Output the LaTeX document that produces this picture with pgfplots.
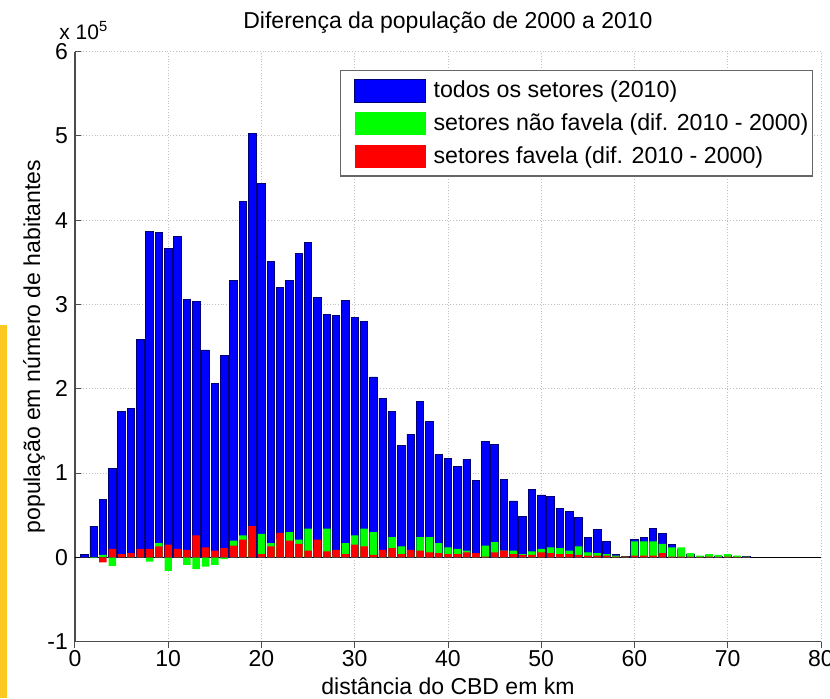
\documentclass[border=0pt]{standalone}
\usepackage{fontspec}
\setmainfont{Liberation Sans}
\usepackage{pgfplots}
\pgfplotsset{compat=1.18}
\usepackage{pgfplotstable}

\definecolor{todos}{RGB}{0,0,255}
\definecolor{naofav}{RGB}{0,255,0}
\definecolor{fav}{RGB}{255,0,0}
\definecolor{faixa}{RGB}{252,201,35}

% km, populacao 2010 (todos), dif. nao favela, dif. favela
\pgfplotstableread{
km todos  naofav  fav
1  4000    0      0
2  37000  -1000   0
3  69000   3000  -6000
4  106000 -10000  10000
5  173000  0      4000
6  177000  1000   5000
7  258000  3000   10000
8  387000 -5000   10000
9  385000  17000  13000
10 366000 -16000  15000
11 381000  2000   10000
12 306000 -9000   9000
13 304000 -14000  26000
14 246000 -11000  12000
15 206000 -9000   8000
16 239000 -2000   11000
17 328000  20000  14000
18 422000  26000  21000
19 503000  22000  37000
20 443000  28000  4000
21 351000  17000  13000
22 320000  22000  29000
23 328000  30000  20000
24 361000  21000  16000
25 373000  34000  8000
26 308000  10000  21000
27 288000  34000  7000
28 287000  3000   9000
29 305000  17000  4000
30 285000  26000  15000
31 280000  34000  13000
32 214000  30000  3000
33 189000  5000   9000
34 173000  24000  11000
35 133000  13000  4000
36 146000  6000   9000
37 185000  24000  8000
38 161000  24000  6000
39 122000  17000  5000
40 117000  12000  4000
41 108000  10000  4000
42 116000  8000   6000
43 91000   4000   5000
44 138000  14000  1000
45 134000  18000  6000
46 92000   8000   8000
47 67000   8000   4000
48 49000   4000   3000
49 81000   7000   3000
50 74000   10000  6000
51 72000   12000  5000
52 58000   11000  4000
53 55000   8000   4000
54 47000   13000  3000
55 24000   6000   2000
56 33000   5000   2000
57 19000   4000   2000
58 4000    2000   1000
59 1000    1000   1000
60 21000   19000  2000
61 24000   19000  2000
62 34000   19000  2000
63 28000   16000  5000
64 15000   12000  1000
65 10000   12000  1000
66 3000    5000   1000
67 1000    2000   500
68 2000    4000   1000
69 1000    3000   500
70 2000    4000   1000
71 1000    2000   500
72 1000    1000   500
}\dados

\begin{document}
\begin{tikzpicture}
\begin{axis}[name=ax,
  width=373pt, height=295.1pt, scale only axis,
  xmin=0, xmax=80, ymin=-100000, ymax=600000,
  xtick={0,10,...,80},
  ytick={-100000,0,100000,200000,300000,400000,500000,600000},
  scaled y ticks=base 10:-5,
  ytick scale label code/.code={x 10\textsuperscript{5}},
  every y tick scale label/.style={at={(axis description cs:0,1)}, anchor=base west,
    xshift=-8pt, yshift=6pt, inner sep=0pt, font=\fontsize{10.5}{12}\selectfont},
  /pgf/number format/assume math mode=true,
  axis lines=left,
  axis line style={-, draw=black!70, line width=0.6pt},
  tick align=inside, major tick length=3pt,
  tick style={black!70, line width=0.5pt},
  grid=major, grid style={densely dotted, black!25, line width=0.5pt},
  font=\fontsize{11}{13}\selectfont,
  tick label style={font=\fontsize{11.5}{13}\selectfont},
  xticklabel style={yshift=2pt},
  ybar, bar width=0.8,
  title={Diferença da população de 2000 a 2010},
  every axis title/.style={at={(axis description cs:0.5,1.0398)}, anchor=base,
    font=\fontsize{11.5}{14}\selectfont, inner sep=0pt},
  xlabel={distância do CBD em km},
  xlabel style={at={(axis description cs:0.5,-0.0898)}, anchor=base,
    font=\fontsize{11.5}{14}\selectfont, inner sep=0pt},
  ylabel={população em número de habitantes},
  ylabel style={at={(axis description cs:-0.0469,0.5)}, anchor=base,
    font=\fontsize{11.5}{14}\selectfont, inner sep=0pt},
  legend image code/.code={\path[draw=none, fill=none] (-7pt,0pt) -- (37.5pt,0pt);
    \fill[#1] (0pt,-5.75pt) rectangle (35.5pt,5.75pt);},
  legend style={at={(axis description cs:0.9893,0.9687)}, anchor=north east,
    draw=black!60, line width=0.6pt, fill=white,
    font=\fontsize{11.6}{14}\selectfont,
    inner xsep=0pt, inner ysep=3pt, row sep=2.5pt,
    cells={anchor=west}},
]
\addplot[sharp plot, black, line width=0.6pt, forget plot] coordinates {(0,0) (80,0)};
\addplot[fill=todos, draw=blue!45!black, line width=0.4pt, bar shift=0pt]
  table[x=km, y=todos] {\dados};
\addlegendentry{todos os setores (2010)}
\addplot[fill=naofav, draw=none, bar shift=0pt]
  table[x=km, y=naofav] {\dados};
\addlegendentry{setores não favela (dif. 2010 - 2000)}
\addplot[fill=fav, draw=none, bar shift=0pt]
  table[x=km, y=fav] {\dados};
\addlegendentry{setores favela (dif. 2010 - 2000)}
\end{axis}
\path (ax.south west) ++(-37.5pt,-28.15pt) coordinate (bbsw);
\fill[faixa] (bbsw) rectangle ++(3.5pt,186.5pt);
\pgfresetboundingbox
\useasboundingbox (bbsw) rectangle ++(415pt,349pt);
\end{tikzpicture}
\end{document}
